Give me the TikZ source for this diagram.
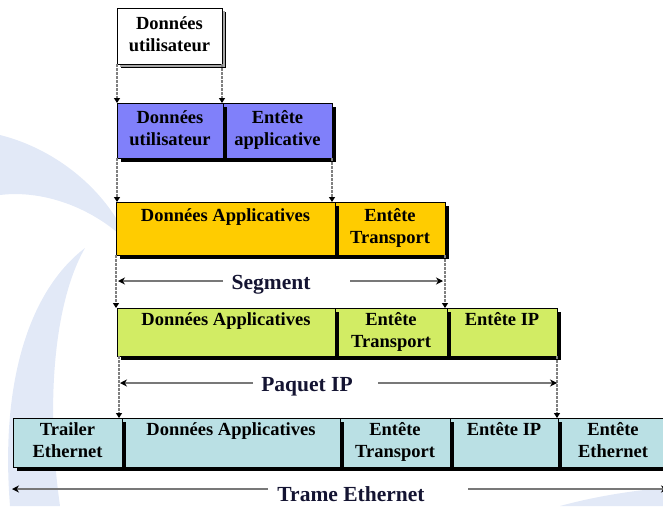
\documentclass[tikz,border=0pt]{standalone}
\usepackage{fontspec}
\setmainfont{Liberation Serif}
\usetikzlibrary{arrows.meta,shadows}
\definecolor{cpurple}{RGB}{128,128,250}
\definecolor{corange}{RGB}{255,204,0}
\definecolor{cgreen}{RGB}{210,236,100}
\definecolor{ccyan}{RGB}{186,224,228}
\definecolor{cnavy}{RGB}{20,20,50}
\definecolor{cswoosh2}{RGB}{226,233,247}
\definecolor{cline}{RGB}{120,120,120}
\tikzset{
  pbox/.style={draw=black, line width=0.8pt, anchor=north west, inner sep=0pt, outer sep=0pt,
    align=center, font=\bfseries\fontsize{18.5}{22}\selectfont, text=black,
    drop shadow={shadow xshift=4pt, shadow yshift=-4pt, fill=black, opacity=1}},
  lbl/.style={font=\bfseries\fontsize{21.5}{24}\selectfont, text=cnavy, inner sep=0pt},
  dasharrow/.style={draw=gray, line width=1.2pt, dash pattern=on 2.5pt off 1.5pt,
    -{Triangle[length=5pt,width=6pt,color=black]}},
  dimarrow/.style={draw=cline, line width=2.6pt, -{Stealth[length=7pt,width=7pt,color=black]}}
}
\begin{document}
\begin{tikzpicture}[x=1pt,y=-1pt]
\useasboundingbox (0,0) rectangle (663,506);
% background watermark
\fill[cswoosh2] (0,135) .. controls (60,150) and (110,195) .. (128,242) .. controls (90,205) and (40,190) .. (0,195) -- cycle;
\fill[cswoosh2] (85,248) .. controls (30,290) and (0,380) .. (10,506) -- (60,506) .. controls (45,400) and (55,300) .. (85,248) -- cycle;
\fill[cswoosh2] (560,506) .. controls (600,495) and (640,490) .. (663,488) -- (663,506) -- cycle;
% row 1
\node[pbox, fill=white, minimum width=105pt, minimum height=56pt,
  drop shadow={shadow xshift=3pt, shadow yshift=-3pt, fill=gray!70, opacity=1}]
  (r1) at (117,8) {\strut Données\\\strut utilisateur};
% row 2
\node[pbox, fill=cpurple, minimum width=109pt, minimum height=55pt] (r2b) at (223,103) {\strut Entête\\\strut applicative};
\node[pbox, fill=cpurple, minimum width=106pt, minimum height=55pt] (r2a) at (117,103) {\strut Données\\\strut utilisateur};
% row 3
\node[pbox, fill=corange, minimum width=110pt, minimum height=53pt] (r3b) at (335,202) {\strut Entête\\\strut Transport};
\node[pbox, fill=corange, minimum width=219pt, minimum height=53pt] (r3a) at (116,202) {\strut Données Applicatives\\\strut};
% row 4
\node[pbox, fill=cgreen, minimum width=110pt, minimum height=48pt] (r4c) at (447,308) {\strut Entête IP\\\strut};
\node[pbox, fill=cgreen, minimum width=112pt, minimum height=48pt] (r4b) at (335,308) {\strut Entête\\\strut Transport};
\node[pbox, fill=cgreen, minimum width=218pt, minimum height=48pt] (r4a) at (117,308) {\strut Données Applicatives\\\strut};
% row 5
\node[pbox, fill=ccyan, minimum width=110pt, minimum height=49pt] (r5e) at (558,418) {\strut Entête\\\strut Ethernet};
\node[pbox, fill=ccyan, minimum width=108pt, minimum height=49pt] (r5d) at (450,418) {\strut Entête IP\\\strut};
\node[pbox, fill=ccyan, minimum width=110pt, minimum height=49pt] (r5c) at (340,418) {\strut Entête\\\strut Transport};
\node[pbox, fill=ccyan, minimum width=218pt, minimum height=49pt] (r5b) at (122,418) {\strut Données Applicatives\\\strut};
\node[pbox, fill=ccyan, minimum width=109pt, minimum height=49pt] (r5a) at (13,418) {\strut Trailer\\\strut Ethernet};
% dashed arrows
\draw[dasharrow] (r1.south west) -- (r2a.north west);
\draw[dasharrow] (r1.south east) -- (r1.south east |- r2a.north);
\draw[dasharrow] (r2a.south west) -- (r2a.south west |- r3a.north);
\draw[dasharrow] (r2b.south east) -- (r2b.south east |- r3a.north);
\draw[dasharrow] (r3a.south west) -- (r3a.south west |- r4a.north);
\draw[dasharrow] (r3b.south east) -- (r3b.south east |- r4a.north);
\draw[dasharrow] ([xshift=2pt]r4a.south west) -- ([xshift=2pt]r4a.south west |- r5a.north);
\draw[dasharrow] (r4c.south east) -- (r4c.south east |- r5a.north);
% Segment
\node[lbl] (seg) at (271,285) {Segment};
\coordinate (segL) at (118,281);
\coordinate (segA) at (223,281);
\coordinate (segB) at (350,281);
\coordinate (segR) at (443,281);
\draw[dimarrow] (segA) -- (segL);
\draw[dimarrow] (segB) -- (segR);
% Paquet IP
\node[lbl] (paq) at (307,387) {Paquet IP};
\coordinate (paqL) at (120,383);
\coordinate (paqA) at (253,383);
\coordinate (paqB) at (378,383);
\coordinate (paqR) at (557,383);
\draw[dimarrow] (paqA) -- (paqL);
\draw[dimarrow] (paqB) -- (paqR);
% Trame Ethernet
\node[lbl] (tram) at (351,494) {Trame Ethernet};
\coordinate (tramL) at (12,489);
\coordinate (tramA) at (268,489);
\coordinate (tramB) at (468,489);
\coordinate (tramR) at (668,489);
\draw[dimarrow] (tramA) -- (tramL);
\draw[dimarrow] (tramB) -- (tramR);
\end{tikzpicture}
\end{document}
